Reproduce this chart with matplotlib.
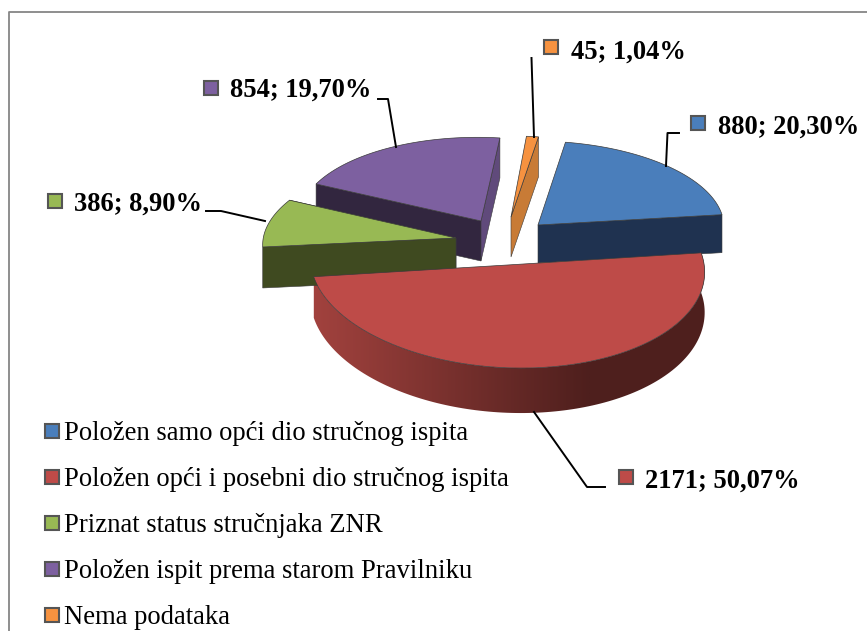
import numpy as np
import matplotlib
matplotlib.use('Agg')
import matplotlib.pyplot as plt
from matplotlib.colors import LinearSegmentedColormap
from matplotlib.patches import Polygon, Rectangle

plt.rcParams['font.family'] = ['Liberation Serif', 'DejaVu Serif']

names = ['Položen samo opći dio stručnog ispita',
         'Položen opći i posebni dio stručnog ispita',
         'Priznat status stručnjaka ZNR',
         'Položen ispit prema starom Pravilniku',
         'Nema podataka']
values = [880, 2171, 386, 854, 45]
percents = ['20,30%', '50,07%', '8,90%', '19,70%', '1,04%']

colors = ['#4A7EBB', '#BE4B48', '#98B954', '#7D60A0', '#F69240']
dark = ['#1F3250', '#4E1F1D', '#3F4A20', '#32263F', '#C87B36']

# apex x, apex y, rx, ry, depth, shear x, shear y for each exploded slice (pixels)
geom = [(538, 225, 186, 84, 38, 0, 2),
        (507.5, 265, 197, 103, 40, -8, 3),
        (456, 238, 192, 86, 41, 22.6, 3.3),
        (481, 221, 182, 83.6, 40, 3.8, 3.5),
        (511, 217, 186, 81, 40, 0, 0)]

first_angle = 81.5
angles = [first_angle]
for v in values:
    angles.append(angles[-1] - 360.0 * v / sum(values))


def rim(i, t):
    cx, cy, rx, ry, d, sx, sy = geom[i]
    t = np.radians(t)
    return np.column_stack([cx + rx * np.cos(t) + sx * np.sin(t),
                            cy - ry * np.sin(t) + sy * np.cos(t)])


def top_face(i):
    ts = np.linspace(angles[i], angles[i + 1], 120)
    pts = np.vstack([geom[i][:2], rim(i, ts)])
    ax.add_patch(Polygon(pts, closed=True, fc=colors[i], ec='#3a3a3a', lw=0.5))


def cut_face(i, t, color):
    cx, cy, d = geom[i][0], geom[i][1], geom[i][4]
    p = rim(i, np.array([t]))[0]
    pts = [(cx, cy), p, (p[0], p[1] + d), (cx, cy + d)]
    ax.add_patch(Polygon(pts, closed=True, fc=color, ec='#3a3a3a', lw=0.4))


fig = plt.figure(figsize=(8.67, 6.31), dpi=100)
ax = fig.add_axes([0, 0, 1, 1])

# frame
ax.plot([9, 9, 867], [631, 12, 12], color='#868686', lw=1.3)

# purple
cut_face(3, angles[3], dark[3])
cut_face(3, angles[4], '#604A7B')
top_face(3)
# green
cut_face(2, angles[3], dark[2])
cut_face(2, angles[2], dark[2])
top_face(2)
# blue
cut_face(0, angles[1], dark[0])
top_face(0)
# orange
cut_face(4, angles[5], dark[4])
top_face(4)

# red, side with gradient then top
ts = np.linspace(180 + angles[1], 360 + angles[1], 140)
p = rim(1, ts)
# side is a bit deeper at the front than at the ends
low = p.copy()
low[:, 1] += geom[1][4] + 5 * np.clip(-np.sin(np.radians(ts)), 0, 1)
side = np.vstack([p, low[::-1]])
red_cm = LinearSegmentedColormap.from_list('red_side', ['#A2423E', '#4E1F1D'])
clip = Polygon(side, closed=True, fc='none', ec='none', transform=ax.transData)
ax.add_patch(clip)
im = ax.imshow(np.linspace(0, 1, 256).reshape(1, -1), cmap=red_cm, aspect='auto',
               extent=(313, 590, 420, 250), interpolation='bilinear')
im.set_clip_path(clip)
# past the end of the gradient it stays dark
im2 = ax.imshow([[1]], cmap=red_cm, vmin=0, vmax=1, aspect='auto', extent=(590, 712, 420, 250))
im2.set_clip_path(clip)
top_face(1)

# leader lines
ax.plot([666, 667.5, 679], [166, 133, 133], color='black', lw=1.4)
ax.plot([534, 587, 605], [412, 487, 487], color='black', lw=1.4)
ax.plot([265, 221, 206], [221, 211, 211], color='black', lw=1.4)
ax.plot([396, 388, 378], [147, 99, 99], color='black', lw=1.4)
ax.plot([534, 531.5], [137, 58], color='black', lw=1.4)

# data labels
lab_sq = [(691, 116), (619, 470), (48, 194), (204, 81), (544, 40)]
lab_txt = [(718, 134), (645, 488), (74, 211), (230, 97), (571, 59)]
for i in range(5):
    ax.add_patch(Rectangle(lab_sq[i], 14, 14, fc=colors[i], ec='#555555', lw=1.5))
    ax.text(lab_txt[i][0], lab_txt[i][1], '%d; %s' % (values[i], percents[i]),
            fontsize=19.1, fontweight='bold', va='baseline', ha='left', color='black')

# legend
leg_sq = [424, 470, 516, 562, 608]
leg_base = [439.5, 486.5, 532.5, 578.5, 624.5]
for i in range(5):
    ax.add_patch(Rectangle((45, leg_sq[i]), 14, 14, fc=colors[i], ec='#555555', lw=1.5))
    ax.text(64, leg_base[i], names[i], fontsize=19.2, va='baseline', ha='left', color='black')

ax.set_xlim(0, 867)
ax.set_ylim(631, 0)
ax.axis('off')

fig.savefig('out.png', dpi=100)
